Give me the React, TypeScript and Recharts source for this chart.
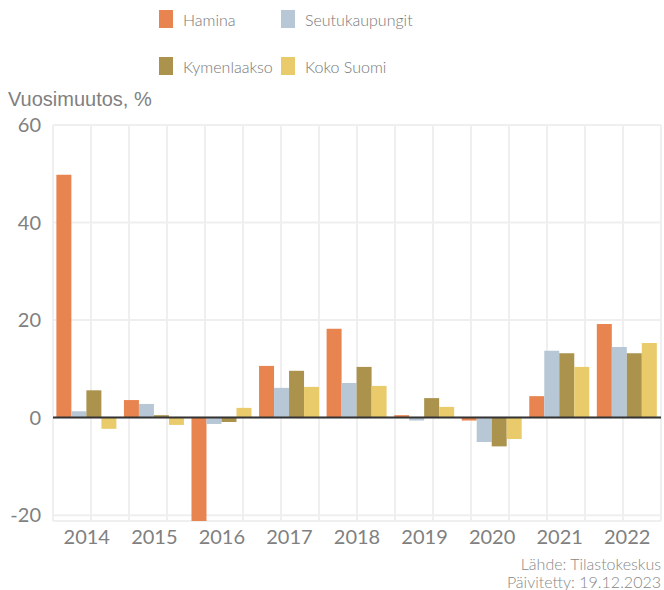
import { Bar, BarChart, CartesianGrid, Legend, ReferenceLine, XAxis, YAxis } from 'recharts';

const years = ['2014', '2015', '2016', '2017', '2018', '2019', '2020', '2021', '2022'];
const hamina = [49.8, 3.6, -21.2, 10.6, 18.2, 0.5, -0.6, 4.4, 19.2];
const seutukaupungit = [1.3, 2.8, -1.3, 6.1, 7.1, -0.6, -5.0, 13.7, 14.5];
const kymenlaakso = [5.6, 0.5, -0.9, 9.6, 10.4, 4.0, -5.9, 13.2, 13.2];
const kokoSuomi = [-2.3, -1.5, 2.0, 6.3, 6.5, 2.2, -4.4, 10.4, 15.3];
const yTicks = [-20, 0, 20, 40, 60];

const series = [
  { key: 'hamina', name: 'Hamina', color: '#E8844F', values: hamina },
  { key: 'seutu', name: 'Seutukaupungit', color: '#B7C7D5', values: seutukaupungit },
  { key: 'kymen', name: 'Kymenlaakso', color: '#AB934E', values: kymenlaakso },
  { key: 'koko', name: 'Koko Suomi', color: '#EACB6B', values: kokoSuomi },
];

const data = years.map((year, i) => {
  const row: Record<string, string | number> = { year };
  series.forEach((s) => (row[s.key] = s.values[i]));
  return row;
});

// grid lines sit on both category edges and centres
const gridTicks = Array.from({ length: years.length * 2 + 1 }, (_, i) => i / 2);

const textFont = 'Lato, sans-serif';

const LegendBox = () => (
  <div
    style={{
      display: 'grid',
      gridTemplateColumns: '122px 180px',
      gridAutoRows: '47px',
      marginLeft: 159,
      fontFamily: textFont,
      fontSize: 16,
      fontWeight: 300,
      color: '#777',
    }}
  >
    {series.map((s) => (
      <div key={s.key} style={{ display: 'flex', alignItems: 'center', height: 38, whiteSpace: 'nowrap' }}>
        <span style={{ width: 14, height: 18, background: s.color, marginRight: 10, flex: 'none' }} />
        <span>{s.name}</span>
      </div>
    ))}
  </div>
);

export default function App() {
  return (
    <div style={{ position: 'absolute', left: 0, top: 0, width: 664, height: 590, background: '#fff' }}>
      <BarChart
        width={664}
        height={590}
        data={data}
        margin={{ top: 35, right: 3, left: 0, bottom: 0 }}
        barCategoryGap="5%"
        barGap={0}
      >
        <CartesianGrid xAxisId="grid" stroke="#efefef" strokeWidth={2} />
        <XAxis xAxisId="grid" type="number" domain={[0, years.length]} ticks={gridTicks} hide />
        <XAxis
          dataKey="year"
          axisLine={false}
          tickLine={false}
          tickSize={0}
          tickMargin={9}
          height={69}
          tick={{ fill: '#808080', fontSize: 20, fontFamily: textFont }}
        />
        <YAxis
          domain={['dataMin', 60]}
          ticks={yTicks}
          width={53}
          axisLine={false}
          tickLine={false}
          tickSize={0}
          tickMargin={12}
          tick={{ fill: '#808080', fontSize: 20, fontFamily: textFont }}
        />
        <Legend
          verticalAlign="top"
          align="left"
          height={90}
          wrapperStyle={{ top: 0, left: 0 }}
          content={() => <LegendBox />}
        />
        {series.map((s) => (
          <Bar key={s.key} dataKey={s.key} name={s.name} fill={s.color} isAnimationActive={false} />
        ))}
        <ReferenceLine y={0} stroke="#333" strokeWidth={2} />
      </BarChart>
      <div
        style={{
          position: 'absolute',
          left: 8,
          top: 88,
          fontFamily: '"Liberation Sans Narrow", "Liberation Sans", sans-serif',
          fontSize: 20,
          color: '#808080',
        }}
      >
        Vuosimuutos, %
      </div>
      <div
        style={{
          position: 'absolute',
          right: 3,
          top: 555,
          textAlign: 'right',
          fontFamily: textFont,
          fontSize: 16,
          fontWeight: 300,
          lineHeight: '17.5px',
          color: '#888',
        }}
      >
        Lähde: Tilastokeskus
        <br />
        Päivitetty: 19.12.2023
      </div>
    </div>
  );
}
